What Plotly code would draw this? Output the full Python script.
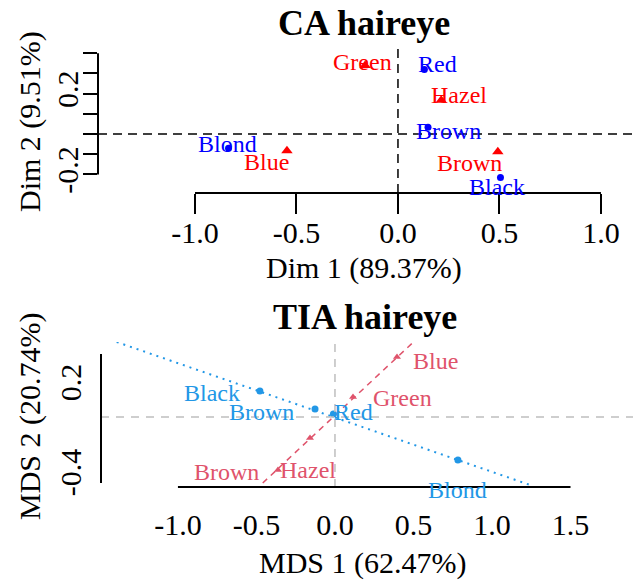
import plotly.graph_objects as go

# ---------------- data ----------------
ca_title = "CA haireye"
ca_xlab = "Dim 1 (89.37%)"
ca_ylab = "Dim 2 (9.51%)"
ca_hair_labels = ["Black", "Brown", "Red", "Blond"]
ca_hair_dim1 = [0.505, 0.148, 0.130, -0.835]
ca_hair_dim2 = [-0.215, 0.033, 0.320, -0.070]
ca_eye_labels = ["Brown", "Blue", "Hazel", "Green"]
ca_eye_dim1 = [0.492, -0.547, 0.213, -0.162]
ca_eye_dim2 = [-0.088, -0.083, 0.167, 0.339]
ca_xticks = [-1.0, -0.5, 0.0, 0.5, 1.0]
ca_xticktext = ["-1.0", "-0.5", "0.0", "0.5", "1.0"]
ca_yticks = [-0.2, -0.1, 0.0, 0.1, 0.2, 0.3, 0.4]
ca_yticktext = ["-0.2", "", "", "", "0.2", "", ""]

tia_title = "TIA haireye"
tia_xlab = "MDS 1 (62.47%)"
tia_ylab = "MDS 2 (20.74%)"
tia_hair_labels = ["Black", "Brown", "Red", "Blond"]
tia_hair_x = [-0.478, -0.127, -0.01, 0.783]
tia_hair_y = [0.173, 0.053, 0.02, -0.287]
tia_eye_labels = ["Blue", "Green", "Hazel", "Brown"]
tia_eye_x = [0.395, 0.115, -0.159, -0.363]
tia_eye_y = [0.40, 0.133, -0.14, -0.353]
tia_hair_axis_x = [-1.39, 1.26]
tia_hair_axis_y = [0.50, -0.46]
tia_eye_axis_x = [-0.46, 0.50]
tia_eye_axis_y = [-0.44, 0.50]
tia_xticks = [-1.0, -0.5, 0.0, 0.5, 1.0, 1.5]
tia_xticktext = ["-1.0", "-0.5", "0.0", "0.5", "1.0", "1.5"]
tia_yticks = [-0.4, 0.2]
tia_yticktext = ["-0.4", "0.2"]

# ---------------- styles ----------------
W, H = 633, 582
FONT = "Liberation Serif, Times New Roman, serif"
CA_RED, CA_BLUE = "#FF0000", "#0000FF"
TIA_PINK, TIA_BLUE = "#DF536B", "#2297E6"
LAB_SIZE = 24
TICK_SIZE = 30

ca_hair_shift = [(-3, -10), (20, -4), (13, 5), (-1, 4)]
ca_eye_shift = [(-28, -11), (-20, -11), (18, 5), (-3, 4)]
tia_hair_shift = [(-48, -2), (-54, -3), (20, 2), (0, -30)]
tia_eye_shift = [(39, -4), (49, -1), (-2, -32), (-51, -2)]

def px_x(p):
    return p / W

def px_y(p):
    return 1 - p / H

fig = go.Figure()

# top panel points
fig.add_trace(go.Scatter(x=ca_hair_dim1, y=ca_hair_dim2, mode="markers",
                         marker=dict(color=CA_BLUE, size=7, symbol="circle"),
                         xaxis="x", yaxis="y", showlegend=False, hoverinfo="skip"))
fig.add_trace(go.Scatter(x=ca_eye_dim1, y=ca_eye_dim2, mode="markers",
                         marker=dict(color=CA_RED, size=10, symbol="triangle-up"),
                         xaxis="x", yaxis="y", showlegend=False, hoverinfo="skip"))

# bottom panel lines and points
fig.add_trace(go.Scatter(x=tia_hair_axis_x, y=tia_hair_axis_y, mode="lines",
                         line=dict(color=TIA_BLUE, width=2, dash="2px,5px"),
                         xaxis="x2", yaxis="y2", showlegend=False, hoverinfo="skip"))
fig.add_trace(go.Scatter(x=tia_eye_axis_x, y=tia_eye_axis_y, mode="lines",
                         line=dict(color=TIA_PINK, width=1.5, dash="6px,5px"),
                         xaxis="x2", yaxis="y2", showlegend=False, hoverinfo="skip"))
fig.add_trace(go.Scatter(x=tia_hair_x, y=tia_hair_y, mode="markers",
                         marker=dict(color=TIA_BLUE, size=7, symbol="circle"),
                         xaxis="x2", yaxis="y2", showlegend=False, hoverinfo="skip"))
fig.add_trace(go.Scatter(x=tia_eye_x, y=tia_eye_y, mode="markers",
                         marker=dict(color=TIA_PINK, size=7, symbol="triangle-up"),
                         xaxis="x2", yaxis="y2", showlegend=False, hoverinfo="skip"))

annotations = []

def add_labels(labels, xs, ys, shifts, color, xref, yref):
    for lab, x, y, (dx, dy) in zip(labels, xs, ys, shifts):
        annotations.append(dict(x=x, y=y, xref=xref, yref=yref, text=lab,
                                showarrow=False, xshift=dx, yshift=dy,
                                font=dict(family=FONT, size=LAB_SIZE, color=color)))

add_labels(ca_hair_labels, ca_hair_dim1, ca_hair_dim2, ca_hair_shift, CA_BLUE, "x", "y")
add_labels(ca_eye_labels, ca_eye_dim1, ca_eye_dim2, ca_eye_shift, CA_RED, "x", "y")
add_labels(tia_hair_labels, tia_hair_x, tia_hair_y, tia_hair_shift, TIA_BLUE, "x2", "y2")
add_labels(tia_eye_labels, tia_eye_x, tia_eye_y, tia_eye_shift, TIA_PINK, "x2", "y2")

# titles
for txt, cx, cy in [(ca_title, 364, 23), (tia_title, 365, 317)]:
    annotations.append(dict(x=px_x(cx), y=px_y(cy), xref="paper", yref="paper", text=f"<b>{txt}</b>",
                            showarrow=False, xanchor="center", yanchor="middle",
                            font=dict(family=FONT, size=36, color="black")))
# axis titles
for txt, cx, cy in [(ca_xlab, 364, 268), (tia_xlab, 363, 563)]:
    annotations.append(dict(x=px_x(cx), y=px_y(cy), xref="paper", yref="paper", text=txt,
                            showarrow=False, xanchor="center", yanchor="middle",
                            font=dict(family=FONT, size=TICK_SIZE, color="black")))
for txt, cx, cy in [(ca_ylab, 30, 122), (tia_ylab, 30, 416)]:
    annotations.append(dict(x=px_x(cx), y=px_y(cy), xref="paper", yref="paper", text=txt,
                            showarrow=False, xanchor="center", yanchor="middle", textangle=-90,
                            font=dict(family=FONT, size=TICK_SIZE, color="black")))

shapes = []
# top panel reference lines (dashed black)
shapes.append(dict(type="line", xref="x domain", yref="y", x0=0, x1=1, y0=0, y1=0,
                   line=dict(color="black", width=1.5, dash="9px,6px")))
shapes.append(dict(type="line", xref="x", yref="y domain", x0=0, x1=0, y0=0, y1=1,
                   line=dict(color="black", width=1.5, dash="9px,6px")))
# top panel axis lines
shapes.append(dict(type="line", xref="x", yref="y domain", x0=ca_xticks[0], x1=ca_xticks[-1], y0=0, y1=0,
                   line=dict(color="black", width=2)))
shapes.append(dict(type="line", xref="x domain", yref="y", x0=0, x1=0, y0=ca_yticks[0], y1=ca_yticks[-1],
                   line=dict(color="black", width=2)))
# bottom panel reference lines (dashed grey)
shapes.append(dict(type="line", xref="x2 domain", yref="y2", x0=0, x1=1, y0=0, y1=0,
                   line=dict(color="#BEBEBE", width=1.5, dash="8px,7px")))
shapes.append(dict(type="line", xref="x2", yref="y2 domain", x0=0, x1=0, y0=0, y1=1,
                   line=dict(color="#BEBEBE", width=1.5, dash="8px,7px")))
# bottom panel axis lines
shapes.append(dict(type="line", xref="x2", yref="y2 domain", x0=tia_xticks[0], x1=tia_xticks[-1], y0=0, y1=0,
                   line=dict(color="black", width=2)))
shapes.append(dict(type="line", xref="x2 domain", yref="y2", x0=0, x1=0, y0=-0.44, y1=0.42,
                   line=dict(color="black", width=2)))

axis_common = dict(showgrid=False, zeroline=False, showline=False, automargin=False,
                   tickfont=dict(family=FONT, size=TICK_SIZE, color="black"))

fig.update_layout(
    width=W, height=H,
    margin=dict(l=0, r=0, t=0, b=0, pad=0, autoexpand=False),
    paper_bgcolor="white", plot_bgcolor="white",
    xaxis=dict(domain=[px_x(98), 1.0], range=[-1.478, 1.158], anchor="y",
               tickmode="array", tickvals=ca_xticks, ticktext=ca_xticktext,
               ticks="outside", ticklen=20, tickwidth=2, tickcolor="black",
               ticklabelstandoff=-7, **axis_common),
    yaxis=dict(domain=[px_y(193), px_y(47)], range=[-0.292, 0.431], anchor="x",
               tickmode="array", tickvals=ca_yticks, ticktext=ca_yticktext, tickangle=-90,
               ticks="outside", ticklen=14, tickwidth=2, tickcolor="black",
               ticklabelstandoff=-7, **axis_common),
    xaxis2=dict(domain=[px_x(101), 1.0], range=[-1.490, 1.898], anchor="y2",
                tickmode="array", tickvals=tia_xticks, ticktext=tia_xticktext,
                ticks="outside", ticklen=20, tickcolor="rgba(0,0,0,0)",
                ticklabelstandoff=-9, **axis_common),
    yaxis2=dict(domain=[px_y(487), px_y(342)], range=[-0.467, 0.5], anchor="x2",
                tickmode="array", tickvals=tia_yticks, ticktext=tia_yticktext, tickangle=-90,
                ticks="outside", ticklen=14, tickcolor="rgba(0,0,0,0)",
                ticklabelstandoff=-7, **axis_common),
    shapes=shapes,
    annotations=annotations,
)

fig.write_html("out.html", config={"displayModeBar": False},
               post_script="document.body.style.margin='0px';document.body.style.overflow='hidden';")
